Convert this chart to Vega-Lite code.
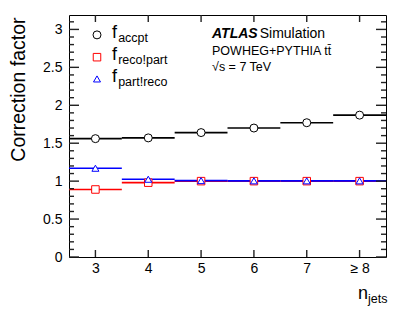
{
  "$schema": "https://vega.github.io/schema/vega-lite/v6.json",
  "width": 317,
  "height": 242,
  "autosize": {"type": "none"},
  "padding": {"left": 69, "top": 15, "right": 21, "bottom": 52},
  "background": "white",
  "config": {
    "view": {"stroke": "black", "strokeWidth": 1},
    "font": "Liberation Sans",
    "axis": {"grid": false, "domain": false, "ticks": false, "labelColor": "black", "labelFont": "Liberation Sans", "labelFontSize": 14, "titleFont": "Liberation Sans", "labelOverlap": false, "labelFlush": false}
  },
  "datasets": {
    "bins": [
      {"n": 3, "lo": 2.5, "hi": 3.5, "series": "accpt", "value": 1.56},
      {"n": 4, "lo": 3.5, "hi": 4.5, "series": "accpt", "value": 1.57},
      {"n": 5, "lo": 4.5, "hi": 5.5, "series": "accpt", "value": 1.64},
      {"n": 6, "lo": 5.5, "hi": 6.5, "series": "accpt", "value": 1.70},
      {"n": 7, "lo": 6.5, "hi": 7.5, "series": "accpt", "value": 1.77},
      {"n": 8, "lo": 7.5, "hi": 8.5, "series": "accpt", "value": 1.87},
      {"n": 3, "lo": 2.5, "hi": 3.5, "series": "reco", "value": 0.89},
      {"n": 4, "lo": 3.5, "hi": 4.5, "series": "reco", "value": 0.98},
      {"n": 5, "lo": 4.5, "hi": 5.5, "series": "reco", "value": 1.0},
      {"n": 6, "lo": 5.5, "hi": 6.5, "series": "reco", "value": 1.0},
      {"n": 7, "lo": 6.5, "hi": 7.5, "series": "reco", "value": 1.0},
      {"n": 8, "lo": 7.5, "hi": 8.5, "series": "reco", "value": 1.0},
      {"n": 3, "lo": 2.5, "hi": 3.5, "series": "part", "value": 1.17},
      {"n": 4, "lo": 3.5, "hi": 4.5, "series": "part", "value": 1.025},
      {"n": 5, "lo": 4.5, "hi": 5.5, "series": "part", "value": 1.007},
      {"n": 6, "lo": 5.5, "hi": 6.5, "series": "part", "value": 1.004},
      {"n": 7, "lo": 6.5, "hi": 7.5, "series": "part", "value": 1.004},
      {"n": 8, "lo": 7.5, "hi": 8.5, "series": "part", "value": 1.004}
    ],
    "legend": [
      {"x": 3.03, "tx": 3.314, "sx": 3.43, "y": 2.928, "series": "accpt", "sub": "accpt"},
      {"x": 3.03, "tx": 3.314, "sx": 3.43, "y": 2.634, "series": "reco", "sub": "reco!part"},
      {"x": 3.03, "tx": 3.314, "sx": 3.43, "y": 2.347, "series": "part", "sub": "part!reco"}
    ],
    "xticks": [{"v": 3}, {"v": 4}, {"v": 5}, {"v": 6}, {"v": 7}, {"v": 8}],
    "ymajor": [{"v": 0}, {"v": 0.5}, {"v": 1}, {"v": 1.5}, {"v": 2}, {"v": 2.5}, {"v": 3}],
    "yminor": [{"v": 0.1}, {"v": 0.2}, {"v": 0.3}, {"v": 0.4}, {"v": 0.6}, {"v": 0.7}, {"v": 0.8}, {"v": 0.9}, {"v": 1.1}, {"v": 1.2}, {"v": 1.3}, {"v": 1.4}, {"v": 1.6}, {"v": 1.7}, {"v": 1.8}, {"v": 1.9}, {"v": 2.1}, {"v": 2.2}, {"v": 2.3}, {"v": 2.4}, {"v": 2.6}, {"v": 2.7}, {"v": 2.8}, {"v": 2.9}, {"v": 3.1}]
  },
  "layer": [
    {
      "data": {"name": "bins"},
      "mark": {"type": "rule", "strokeWidth": 1.6},
      "encoding": {
        "x": {"field": "lo", "type": "quantitative", "scale": {"domain": [2.5, 8.5], "nice": false, "zero": false},
          "axis": {"orient": "bottom", "values": [3, 4, 5, 6, 7, 8], "labelPadding": 4, "labelExpr": "datum.value == 8 ? '\u2265 8' : datum.label", "title": null}},
        "x2": {"field": "hi"},
        "y": {"field": "value", "type": "quantitative", "scale": {"domain": [0, 3.19], "nice": false, "zero": false},
          "axis": {"orient": "left", "values": [0, 0.5, 1, 1.5, 2, 2.5, 3],
            "labelPadding": 7,
            "labelExpr": "'' + round(datum.value*10)/10",
            "title": "Correction factor", "titleFontSize": 19.5, "titleFontWeight": "normal", "titleAngle": -90, "titleAlign": "right", "titleBaseline": "middle", "titleX": -51, "titleY": 2}},
        "color": {"field": "series", "type": "nominal", "scale": {"domain": ["accpt", "reco", "part"], "range": ["black", "#ff0000", "#0000ff"]}, "legend": null},
        "order": {"field": "n"}
      }
    },
    {
      "data": {"name": "bins"},
      "mark": {"type": "point", "filled": false, "fill": "white", "fillOpacity": 1, "strokeWidth": 1, "opacity": 1},
      "encoding": {
        "x": {"field": "n", "type": "quantitative"},
        "y": {"field": "value", "type": "quantitative"},
        "shape": {"field": "series", "type": "nominal", "scale": {"domain": ["accpt", "reco", "part"], "range": ["circle", "square", "triangle-up"]}, "legend": null},
        "size": {"field": "series", "type": "nominal", "scale": {"domain": ["accpt", "reco", "part"], "range": [64, 49, 60]}, "legend": null},
        "stroke": {"field": "series", "type": "nominal", "scale": {"domain": ["accpt", "reco", "part"], "range": ["black", "#ff0000", "#0000ff"]}, "legend": null},
        "order": {"field": "n"}
      }
    },
    {
      "data": {"name": "xticks"},
      "mark": {"type": "tick", "orient": "vertical", "color": "#222222", "thickness": 1.4, "size": 7, "yOffset": -3.5, "opacity": 1},
      "encoding": {"x": {"field": "v", "type": "quantitative"}, "y": {"datum": 0}}
    },
    {
      "data": {"name": "xticks"},
      "mark": {"type": "tick", "orient": "vertical", "color": "#222222", "thickness": 1.4, "size": 7, "yOffset": 3.5, "opacity": 1},
      "encoding": {"x": {"field": "v", "type": "quantitative"}, "y": {"datum": 3.19}}
    },
    {
      "data": {"name": "ymajor"},
      "mark": {"type": "tick", "orient": "horizontal", "color": "#222222", "thickness": 1.4, "size": 10, "xOffset": 5, "opacity": 1},
      "encoding": {"y": {"field": "v", "type": "quantitative"}, "x": {"datum": 2.5}}
    },
    {
      "data": {"name": "yminor"},
      "mark": {"type": "tick", "orient": "horizontal", "color": "#222222", "thickness": 1.4, "size": 5, "xOffset": 2.5, "opacity": 1},
      "encoding": {"y": {"field": "v", "type": "quantitative"}, "x": {"datum": 2.5}}
    },
    {
      "data": {"name": "ymajor"},
      "mark": {"type": "tick", "orient": "horizontal", "color": "#222222", "thickness": 1.4, "size": 10, "xOffset": -5, "opacity": 1},
      "encoding": {"y": {"field": "v", "type": "quantitative"}, "x": {"datum": 8.5}}
    },
    {
      "data": {"name": "yminor"},
      "mark": {"type": "tick", "orient": "horizontal", "color": "#222222", "thickness": 1.4, "size": 5, "xOffset": -2.5, "opacity": 1},
      "encoding": {"y": {"field": "v", "type": "quantitative"}, "x": {"datum": 8.5}}
    },
    {
      "data": {"name": "legend"},
      "mark": {"type": "point", "filled": false, "fill": "white", "fillOpacity": 1, "strokeWidth": 1},
      "encoding": {
        "x": {"field": "x", "type": "quantitative"},
        "y": {"field": "y", "type": "quantitative"},
        "shape": {"field": "series", "type": "nominal", "scale": {"domain": ["accpt", "reco", "part"], "range": ["circle", "square", "triangle-up"]}, "legend": null},
        "size": {"field": "series", "type": "nominal", "scale": {"domain": ["accpt", "reco", "part"], "range": [64, 49, 60]}, "legend": null},
        "stroke": {"field": "series", "type": "nominal", "scale": {"domain": ["accpt", "reco", "part"], "range": ["black", "#ff0000", "#0000ff"]}, "legend": null}
      }
    },
    {
      "data": {"name": "legend"},
      "mark": {"type": "text", "align": "left", "baseline": "alphabetic", "dy": 3, "fontSize": 18, "font": "Liberation Sans", "color": "black"},
      "encoding": {
        "x": {"field": "tx", "type": "quantitative"},
        "y": {"field": "y", "type": "quantitative"},
        "text": {"value": "f"}
      }
    },
    {
      "data": {"name": "legend"},
      "mark": {"type": "text", "align": "left", "baseline": "alphabetic", "dy": 7, "fontSize": 12.5, "font": "Liberation Sans", "color": "black"},
      "encoding": {
        "x": {"field": "sx", "type": "quantitative"},
        "y": {"field": "y", "type": "quantitative"},
        "text": {"field": "sub"}
      }
    },
    {
      "data": {"values": [{"x": 5.207, "y": 2.885, "t": "ATLAS"}]},
      "mark": {"type": "text", "align": "left", "baseline": "alphabetic", "fontSize": 14, "fontWeight": "bold", "fontStyle": "italic", "font": "Liberation Sans", "color": "black"},
      "encoding": {
        "x": {"field": "x", "type": "quantitative"},
        "y": {"field": "y", "type": "quantitative"},
        "text": {"field": "t"}
      }
    },
    {
      "data": {"values": [{"x": 6.11, "y": 2.885, "t": "Simulation"}]},
      "mark": {"type": "text", "align": "left", "baseline": "alphabetic", "fontSize": 14, "font": "Liberation Sans", "color": "black"},
      "encoding": {
        "x": {"field": "x", "type": "quantitative"},
        "y": {"field": "y", "type": "quantitative"},
        "text": {"field": "t"}
      }
    },
    {
      "data": {"values": [
        {"x": 5.207, "y": 2.665, "t": "POWHEG+PYTHIA tt\u0304"},
        {"x": 5.207, "y": 2.45, "t": "\u221as = 7 TeV"}
      ]},
      "mark": {"type": "text", "align": "left", "baseline": "alphabetic", "fontSize": 12.5, "font": "Liberation Sans", "color": "black"},
      "encoding": {
        "x": {"field": "x", "type": "quantitative"},
        "y": {"field": "y", "type": "quantitative"},
        "text": {"field": "t"}
      }
    },
    {
      "data": {"values": [{"x": 7.97, "y": -0.56, "t": "n"}]},
      "mark": {"type": "text", "align": "left", "baseline": "alphabetic", "fontSize": 18, "font": "Liberation Sans", "color": "black"},
      "encoding": {
        "x": {"field": "x", "type": "quantitative"},
        "y": {"field": "y", "type": "quantitative"},
        "text": {"field": "t"}
      }
    },
    {
      "data": {"values": [{"x": 8.16, "y": -0.60, "t": "jets"}]},
      "mark": {"type": "text", "align": "left", "baseline": "alphabetic", "fontSize": 12.5, "font": "Liberation Sans", "color": "black"},
      "encoding": {
        "x": {"field": "x", "type": "quantitative"},
        "y": {"field": "y", "type": "quantitative"},
        "text": {"field": "t"}
      }
    }
  ]
}
